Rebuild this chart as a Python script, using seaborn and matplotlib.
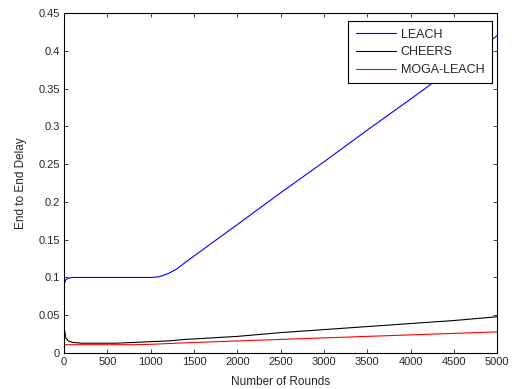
import numpy as np
import pandas as pd
import seaborn as sns
import matplotlib
matplotlib.use("Agg")
import matplotlib.pyplot as plt

# values
rounds = [0, 20, 50, 100, 200, 400, 600, 800, 1000, 1100, 1200, 1300, 1400,
          2000, 2500, 3000, 3500, 4000, 4500, 5000]
leach = [0.09, 0.097, 0.099, 0.1, 0.1, 0.1, 0.1, 0.1, 0.1, 0.101, 0.105, 0.111, 0.12,
         0.17, 0.212, 0.253, 0.295, 0.336, 0.378, 0.42]
cheers = [0.035, 0.02, 0.016, 0.014, 0.013, 0.013, 0.013, 0.014, 0.015, 0.0155, 0.016, 0.017, 0.018,
          0.022, 0.027, 0.031, 0.035, 0.039, 0.043, 0.048]
moga = [0.011, 0.011, 0.011, 0.011, 0.011, 0.011, 0.011, 0.011, 0.0115, 0.012, 0.0125, 0.013, 0.0135,
        0.016, 0.018, 0.02, 0.022, 0.024, 0.026, 0.028]

df = pd.DataFrame({"Rounds": rounds, "LEACH": leach, "CHEERS": cheers, "MOGA-LEACH": moga})
long = df.melt(id_vars="Rounds", var_name="Protocol", value_name="Delay")

sns.set_style("white")
plt.rcParams["font.family"] = ["Liberation Sans", "DejaVu Sans"]

fig = plt.figure(figsize=(5.12, 3.89), dpi=100)
ax = fig.add_axes([0.125, 0.0925, 0.846, 0.874])
sns.lineplot(data=long, x="Rounds", y="Delay", hue="Protocol",
             palette={"LEACH": "#0000ff", "CHEERS": "#000000", "MOGA-LEACH": "#ff0000"},
             linewidth=0.8, ax=ax)

ax.set_xlim(0, 5000)
ax.set_ylim(0, 0.45)
ax.set_xticks(np.arange(0, 5001, 500))
ax.set_yticks(np.arange(0, 0.451, 0.05))
ax.set_yticklabels(["0", "0.05", "0.1", "0.15", "0.2", "0.25", "0.3", "0.35", "0.4", "0.45"])
ax.set_xlabel("Number of Rounds", fontsize=8.5, labelpad=6)
ax.set_ylabel("End to End Delay", fontsize=8.5, labelpad=8)
ax.tick_params(direction="in", length=3, width=0.6, labelsize=8, top=True, right=True,
               bottom=True, left=True, pad=3)
for s in ax.spines.values():
    s.set_color("black")
    s.set_linewidth(0.8)

leg = ax.legend(loc="upper right", bbox_to_anchor=(0.988, 0.976), borderaxespad=0,
                fontsize=9, frameon=True, fancybox=False, edgecolor="black", framealpha=1,
                handlelength=3.2, handletextpad=0.4, labelspacing=0.45, borderpad=0.6)
leg.get_frame().set_linewidth(0.8)

fig.savefig("out.png", dpi=100)
